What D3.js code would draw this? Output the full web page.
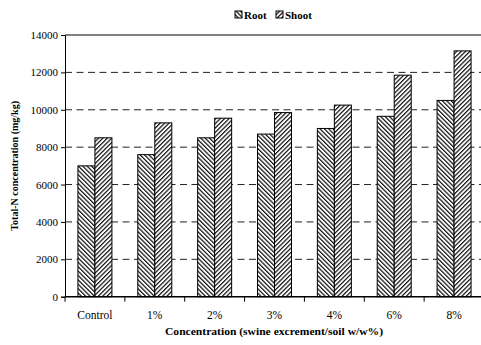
<!DOCTYPE html>
<html>
<head>
<meta charset="utf-8">
<script src="https://cdn.jsdelivr.net/npm/d3@7/dist/d3.min.js"></script>
<style>
  html, body { margin: 0; padding: 0; background: #fff; }
  svg { display: block; }
  svg text { font-family: "Liberation Serif", "Times New Roman", Times, serif; fill: #000; }
</style>
</head>
<body>
<svg id="chart" width="481" height="345"></svg>
<script>
// Total-N concentration in root and shoot by swine excrement dose
const categories = ["Control", "1%", "2%", "3%", "4%", "6%", "8%"];
const seriesNames = ["Root", "Shoot"];
const rootValues = [7000, 7600, 8500, 8700, 9000, 9650, 10500];
const shootValues = [8500, 9300, 9550, 9850, 10250, 11850, 13150];
const yTicks = [0, 2000, 4000, 6000, 8000, 10000, 12000, 14000];

const svg = d3.select("#chart");
const W = 481, H = 345;
const x0 = 65, x1 = 484;
const yTop = 35, yBot = 296.7;

// Hatch patterns for the two series
const defs = svg.append("defs");
function hatch(id, angle) {
  const s = 3.1;
  const p = defs.append("pattern")
    .attr("id", id)
    .attr("patternUnits", "userSpaceOnUse")
    .attr("width", s).attr("height", s)
    .attr("patternTransform", `rotate(${angle})`);
  p.append("rect").attr("width", s).attr("height", s).attr("fill", "#fff");
  p.append("line").attr("x1", 0.6).attr("y1", 0).attr("x2", 0.6).attr("y2", s)
    .attr("stroke", "#111").attr("stroke-width", 1.25);
}
hatch("hatch-root", -45);
hatch("hatch-shoot", 45);
const fills = { Root: "url(#hatch-root)", Shoot: "url(#hatch-shoot)" };

const x = d3.scaleBand().domain(categories).range([x0, x1]).paddingInner(0).paddingOuter(0);
const xs = d3.scaleBand().domain(seriesNames).range([0, 34]);
const y = d3.scaleLinear().domain([0, 14000]).range([yBot, yTop]);

// Horizontal gridlines (dashed) and solid top line
const grid = svg.append("g");
yTicks.filter(v => v > 0 && v < 14000).forEach(v => {
  grid.append("line")
    .attr("x1", x0).attr("x2", x1)
    .attr("y1", y(v)).attr("y2", y(v))
    .attr("stroke", "#222").attr("stroke-width", 1)
    .attr("stroke-dasharray", "7,4.5");
});
grid.append("line")
  .attr("x1", x0).attr("x2", x1)
  .attr("y1", y(14000)).attr("y2", y(14000))
  .attr("stroke", "#000").attr("stroke-width", 1);

// Bars
const data = categories.map((c, i) => ({ cat: c, Root: rootValues[i], Shoot: shootValues[i] }));
const groups = svg.append("g").selectAll("g").data(data).join("g")
  .attr("transform", d => `translate(${x(d.cat) + x.bandwidth() / 2 - 17},0)`);
groups.selectAll("rect")
  .data(d => seriesNames.map(s => ({ s, v: d[s] })))
  .join("rect")
  .attr("x", d => xs(d.s))
  .attr("width", xs.bandwidth())
  .attr("y", d => y(d.v))
  .attr("height", d => y(0) - y(d.v))
  .attr("fill", d => fills[d.s])
  .attr("stroke", "#000")
  .attr("stroke-width", 1);

// Y axis
const yAxis = d3.axisLeft(y).tickValues(yTicks).tickSize(4).tickPadding(3).tickFormat(d3.format("d"));
const gy = svg.append("g").attr("transform", `translate(${x0},0)`).call(yAxis);
gy.attr("font-family", null);
gy.select(".domain").attr("stroke", "#000");
gy.selectAll("text").attr("font-size", 11);

// X axis with ticks at category boundaries
const gx = svg.append("g").attr("transform", `translate(0,${yBot})`);
gx.append("line").attr("x1", x0).attr("x2", x1).attr("stroke", "#000").attr("stroke-width", 1.4);
categories.forEach(c => {
  gx.append("line").attr("x1", x(c)).attr("x2", x(c)).attr("y1", 0).attr("y2", 5).attr("stroke", "#000");
  gx.append("text")
    .attr("x", x(c) + x.bandwidth() / 2).attr("y", 22)
    .attr("text-anchor", "middle").attr("font-size", 11.5)
    .text(c);
});

// Axis titles
svg.append("text")
  .attr("x", 274).attr("y", 335)
  .attr("text-anchor", "middle").attr("font-size", 11).attr("font-weight", "bold")
  .attr("textLength", 218).attr("lengthAdjust", "spacingAndGlyphs")
  .text("Concentration (swine excrement/soil w/w%)");
svg.append("text")
  .attr("transform", `translate(18,${(yTop + yBot) / 2}) rotate(-90)`)
  .attr("text-anchor", "middle").attr("font-size", 10).attr("font-weight", "bold")
  .text("Total-N concentration (mg/kg)");

// Legend
const legend = svg.append("g").attr("transform", "translate(235,11)");
const legendItems = [{ s: "Root", dx: 0 }, { s: "Shoot", dx: 41 }];
legendItems.forEach(it => {
  legend.append("rect").attr("x", it.dx).attr("y", 0).attr("width", 7).attr("height", 7)
    .attr("fill", fills[it.s]).attr("stroke", "#000").attr("stroke-width", 1);
  legend.append("text").attr("x", it.dx + 9).attr("y", 8)
    .attr("font-size", 11).attr("font-weight", "bold").text(it.s);
});
</script>
</body>
</html>
